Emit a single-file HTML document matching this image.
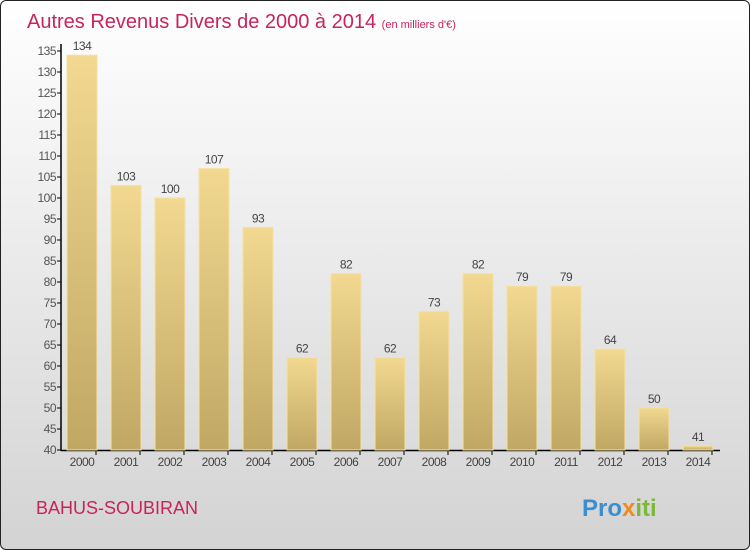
<!DOCTYPE html>
<html><head><meta charset="utf-8"><style>
body{margin:0;width:750px;height:550px;overflow:hidden;font-family:"Liberation Sans",sans-serif}
#wrap{position:absolute;left:0;top:0;width:748px;height:548px;border:1px solid #222;border-radius:6px;background:linear-gradient(#ffffff,#d3d3d3)}
</style></head><body>
<div id="wrap">
<svg width="750" height="550" style="position:absolute;left:-1px;top:-1px">
<defs><linearGradient id="bg" x1="0" y1="0" x2="0" y2="1"><stop offset="0" stop-color="#f2d890"/><stop offset="1" stop-color="#c0a864"/></linearGradient></defs>
<text x="27" y="28" font-size="20" fill="#c8245a">Autres Revenus Divers de 2000 à 2014 <tspan font-size="11">(en milliers d'€)</tspan></text>
<g id="axes"></g><g id="bars"></g>
<text x="36" y="514" font-size="18" fill="#c8245a">BAHUS-SOUBIRAN</text>
<text x="582" y="516" font-size="24" font-weight="bold"><tspan fill="#3a8fd0">Pro</tspan><tspan fill="#f08a1c">x</tspan><tspan fill="#7cb83a">iti</tspan></text>
</svg></div>
<script>
const years=["2000","2001","2002","2003","2004","2005","2006","2007","2008","2009","2010","2011","2012","2013","2014"];
const values=[134,103,100,107,93,62,82,62,73,82,79,79,64,50,41];
const yTicks=[40,45,50,55,60,65,70,75,80,85,90,95,100,105,110,115,120,125,130,135];
const NS="http://www.w3.org/2000/svg";
const y=v=>450-(v-40)*(399/95);
const x=i=>82+i*44;
const ax=document.getElementById('axes'),bg=document.getElementById('bars');
function mk(t,a,p){const e=document.createElementNS(NS,t);for(const k in a)e.setAttribute(k,a[k]);p.appendChild(e);return e;}
let l=mk('line',{x1:61,y1:44,x2:61,y2:451,stroke:'#000','stroke-width':1.5},ax);


l=mk('line',{x1:61,y1:450.5,x2:720,y2:450.5,stroke:'#000','stroke-width':1.5},ax);


yTicks.forEach(v=>{
 mk('line',{x1:57,y1:y(v),x2:61,y2:y(v),stroke:'#000'},ax);
 const t=mk('text',{x:56,y:y(v)+4,'font-size':12,'text-anchor':'end',fill:'#555','letter-spacing':'-0.5'},ax);t.textContent=v;
 
 
});
years.forEach((yr,i)=>{
 const v=values[i];
 const r=mk('rect',{x:x(i)-15,y:y(v),width:30,height:450-y(v),fill:'url(#bg)',stroke:'#f5e2a0','stroke-width':1},bg);
 
 
 mk('line',{x1:x(i)+14,y1:451,x2:x(i)+14,y2:455,stroke:'#000'},ax);
 const t=mk('text',{x:x(i),y:y(v)-5,'font-size':12,'text-anchor':'middle',fill:'#444','letter-spacing':'-0.5'},bg);t.textContent=v;
 
 
 const xl=mk('text',{x:x(i),y:466,'font-size':12,'text-anchor':'middle',fill:'#444','letter-spacing':'-0.5'},ax);xl.textContent=yr;
 
 
});
</script>
</body></html>
